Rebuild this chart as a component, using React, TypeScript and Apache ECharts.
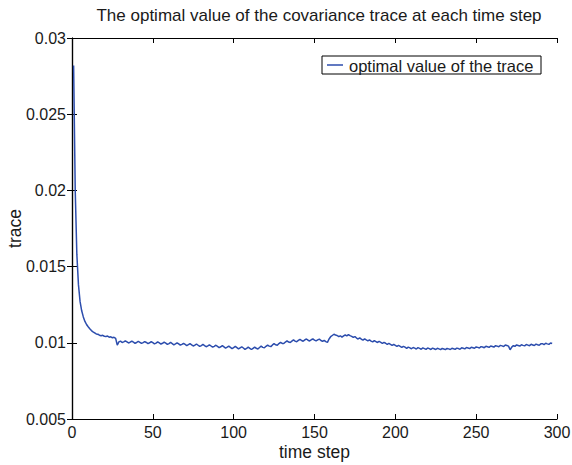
import React, { useEffect, useRef } from "react";
import * as echarts from "echarts";

const TITLE = "The optimal value of the covariance trace at each time step";
const SERIES_NAME = "optimal value of the trace";
const X_NAME = "time step";
const Y_NAME = "trace";

// time steps 1..297
const traceValues: number[] = [
  0.02820, 0.02000, 0.01580, 0.01380, 0.01270, 0.01210, 0.01170, 0.01140, 0.01120, 0.01105,
  0.01092, 0.01080, 0.01072, 0.01065, 0.01058, 0.01056, 0.01050, 0.01046, 0.01049, 0.01043,
  0.01041, 0.01044, 0.01037, 0.01039, 0.01033, 0.01036, 0.01029, 0.00985, 0.01006, 0.01011,
  0.01002, 0.01006, 0.01013, 0.01006, 0.00999, 0.01004, 0.01011, 0.01004, 0.00997, 0.01002,
  0.01009, 0.01003, 0.00996, 0.01001, 0.01008, 0.01002, 0.00995, 0.01000, 0.01007, 0.01001,
  0.00993, 0.00998, 0.01006, 0.00999, 0.00992, 0.00997, 0.01004, 0.00998, 0.00990, 0.00995,
  0.01002, 0.00995, 0.00987, 0.00993, 0.01000, 0.00993, 0.00985, 0.00990, 0.00997, 0.00990,
  0.00982, 0.00988, 0.00994, 0.00987, 0.00979, 0.00985, 0.00992, 0.00984, 0.00976, 0.00982,
  0.00989, 0.00982, 0.00974, 0.00980, 0.00987, 0.00979, 0.00971, 0.00977, 0.00984, 0.00976,
  0.00968, 0.00974, 0.00981, 0.00973, 0.00965, 0.00971, 0.00978, 0.00970, 0.00962, 0.00969,
  0.00976, 0.00968, 0.00960, 0.00967, 0.00974, 0.00966, 0.00957, 0.00964, 0.00972, 0.00964,
  0.00956, 0.00964, 0.00972, 0.00964, 0.00959, 0.00969, 0.00978, 0.00970, 0.00967, 0.00977,
  0.00985, 0.00978, 0.00975, 0.00986, 0.00994, 0.00987, 0.00984, 0.00995, 0.01003, 0.00996,
  0.00995, 0.01005, 0.01013, 0.01005, 0.01002, 0.01011, 0.01019, 0.01011, 0.01007, 0.01016,
  0.01023, 0.01015, 0.01010, 0.01019, 0.01025, 0.01017, 0.01012, 0.01020, 0.01026, 0.01018,
  0.01012, 0.01019, 0.01024, 0.01015, 0.01009, 0.01016, 0.01008, 0.01003, 0.01025, 0.01040,
  0.01048, 0.01056, 0.01051, 0.01048, 0.01040, 0.01046, 0.01037, 0.01045, 0.01051, 0.01045,
  0.01053, 0.01047, 0.01042, 0.01035, 0.01041, 0.01031, 0.01025, 0.01032, 0.01023, 0.01018,
  0.01026, 0.01019, 0.01013, 0.01019, 0.01011, 0.01006, 0.01014, 0.01008, 0.01002, 0.01009,
  0.01003, 0.00996, 0.01003, 0.00997, 0.00989, 0.00996, 0.00990, 0.00983, 0.00990, 0.00983,
  0.00976, 0.00983, 0.00977, 0.00970, 0.00977, 0.00971, 0.00964, 0.00972, 0.00967, 0.00961,
  0.00969, 0.00965, 0.00959, 0.00968, 0.00963, 0.00958, 0.00967, 0.00962, 0.00957, 0.00966,
  0.00962, 0.00956, 0.00965, 0.00961, 0.00956, 0.00964, 0.00960, 0.00955, 0.00963, 0.00959,
  0.00955, 0.00963, 0.00960, 0.00956, 0.00964, 0.00961, 0.00957, 0.00965, 0.00962, 0.00958,
  0.00967, 0.00964, 0.00960, 0.00969, 0.00966, 0.00962, 0.00971, 0.00968, 0.00964, 0.00973,
  0.00970, 0.00966, 0.00975, 0.00972, 0.00968, 0.00977, 0.00974, 0.00970, 0.00979, 0.00976,
  0.00972, 0.00981, 0.00978, 0.00974, 0.00983, 0.00980, 0.00976, 0.00985, 0.00982, 0.00978,
  0.00954, 0.00972, 0.00981, 0.00977, 0.00986, 0.00982, 0.00978, 0.00987, 0.00983, 0.00980,
  0.00989, 0.00985, 0.00981, 0.00990, 0.00986, 0.00982, 0.00991, 0.00987, 0.00984, 0.00993,
  0.00994, 0.00988, 0.00997, 0.00993, 0.00990, 0.00999, 0.00995,
];

const X_MIN = 0;
const X_MAX = 300;
const X_INTERVAL = 50;
const Y_MIN = 0.005;
const Y_MAX = 0.03;
const Y_INTERVAL = 0.005;

const FONT = "'Liberation Sans', Arial, Helvetica, sans-serif";
const TEXT_COLOR = "#1a1a1a";
const LINE_COLOR = "#2c4dad";

export default function App() {
  const ref = useRef<HTMLDivElement>(null);

  useEffect(() => {
    if (!ref.current) return;
    const chart = echarts.init(ref.current, undefined, { renderer: "svg" });
    const data = traceValues.map((v, i) => [i + 1, v]);

    const axisLine = { show: true, lineStyle: { color: "#000", width: 1.2 } };
    const tick = { show: true, inside: true, length: 5, lineStyle: { color: "#000", width: 1 } };

    chart.setOption({
      animation: false,
      backgroundColor: "#fff",
      textStyle: { fontFamily: FONT },
      title: {
        text: TITLE,
        left: 314,
        textAlign: "center",
        top: 2,
        textStyle: { fontFamily: FONT, fontSize: 17, fontWeight: "normal", color: TEXT_COLOR },
      },
      graphic: [
        {
          type: "group",
          z: 100,
          children: [
            {
              type: "rect",
              shape: { x: 322, y: 56, width: 219, height: 18 },
              style: { fill: "#fff", stroke: "#000", lineWidth: 1 },
            },
            {
              type: "line",
              shape: { x1: 327, y1: 65, x2: 343, y2: 65 },
              style: { stroke: LINE_COLOR, lineWidth: 1.5 },
            },
            {
              type: "text",
              x: 349,
              y: 65.5,
              style: {
                text: SERIES_NAME,
                fontFamily: FONT,
                fontSize: 16.5,
                fill: TEXT_COLOR,
                verticalAlign: "middle",
                align: "left",
              },
            },
          ],
        },
      ],
      grid: {
        left: 72,
        top: 38,
        width: 485,
        height: 381,
        containLabel: false,
        outerBoundsMode: "none",
      },
      xAxis: [
        {
          type: "value",
          min: X_MIN,
          max: X_MAX,
          interval: X_INTERVAL,
          position: "bottom",
          axisLine,
          axisTick: tick,
          splitLine: { show: false },
          axisLabel: { fontFamily: FONT, fontSize: 16, color: TEXT_COLOR, margin: 5 },
          name: X_NAME,
          nameLocation: "middle",
          nameGap: 24,
          nameMoveOverlap: false,
          nameTextStyle: { fontFamily: FONT, fontSize: 17.5, color: TEXT_COLOR },
        },
        {
          type: "value",
          min: X_MIN,
          max: X_MAX,
          interval: X_INTERVAL,
          position: "top",
          axisLine,
          axisTick: tick,
          splitLine: { show: false },
          axisLabel: { show: false },
        },
      ],
      yAxis: [
        {
          type: "value",
          min: Y_MIN,
          max: Y_MAX,
          interval: Y_INTERVAL,
          position: "left",
          axisLine,
          axisTick: tick,
          splitLine: { show: false },
          axisLabel: {
            fontFamily: FONT,
            fontSize: 16,
            color: TEXT_COLOR,
            margin: 6,
            formatter: (v: number) => String(parseFloat(v.toFixed(4))),
          },
          name: Y_NAME,
          nameLocation: "middle",
          nameGap: 48,
          nameMoveOverlap: false,
          nameTextStyle: { fontFamily: FONT, fontSize: 17.5, color: TEXT_COLOR },
        },
        {
          type: "value",
          min: Y_MIN,
          max: Y_MAX,
          interval: Y_INTERVAL,
          position: "right",
          axisLine,
          axisTick: tick,
          splitLine: { show: false },
          axisLabel: { show: false },
        },
      ],
      series: [
        {
          name: SERIES_NAME,
          type: "line",
          data,
          xAxisIndex: 0,
          yAxisIndex: 0,
          symbol: "none",
          showSymbol: false,
          lineStyle: { color: LINE_COLOR, width: 1.5 },
          itemStyle: { color: LINE_COLOR },
        },
      ],
    });

    return () => chart.dispose();
  }, []);

  return <div ref={ref} style={{ width: 572, height: 465, position: "absolute", left: 0, top: 0 }} />;
}
